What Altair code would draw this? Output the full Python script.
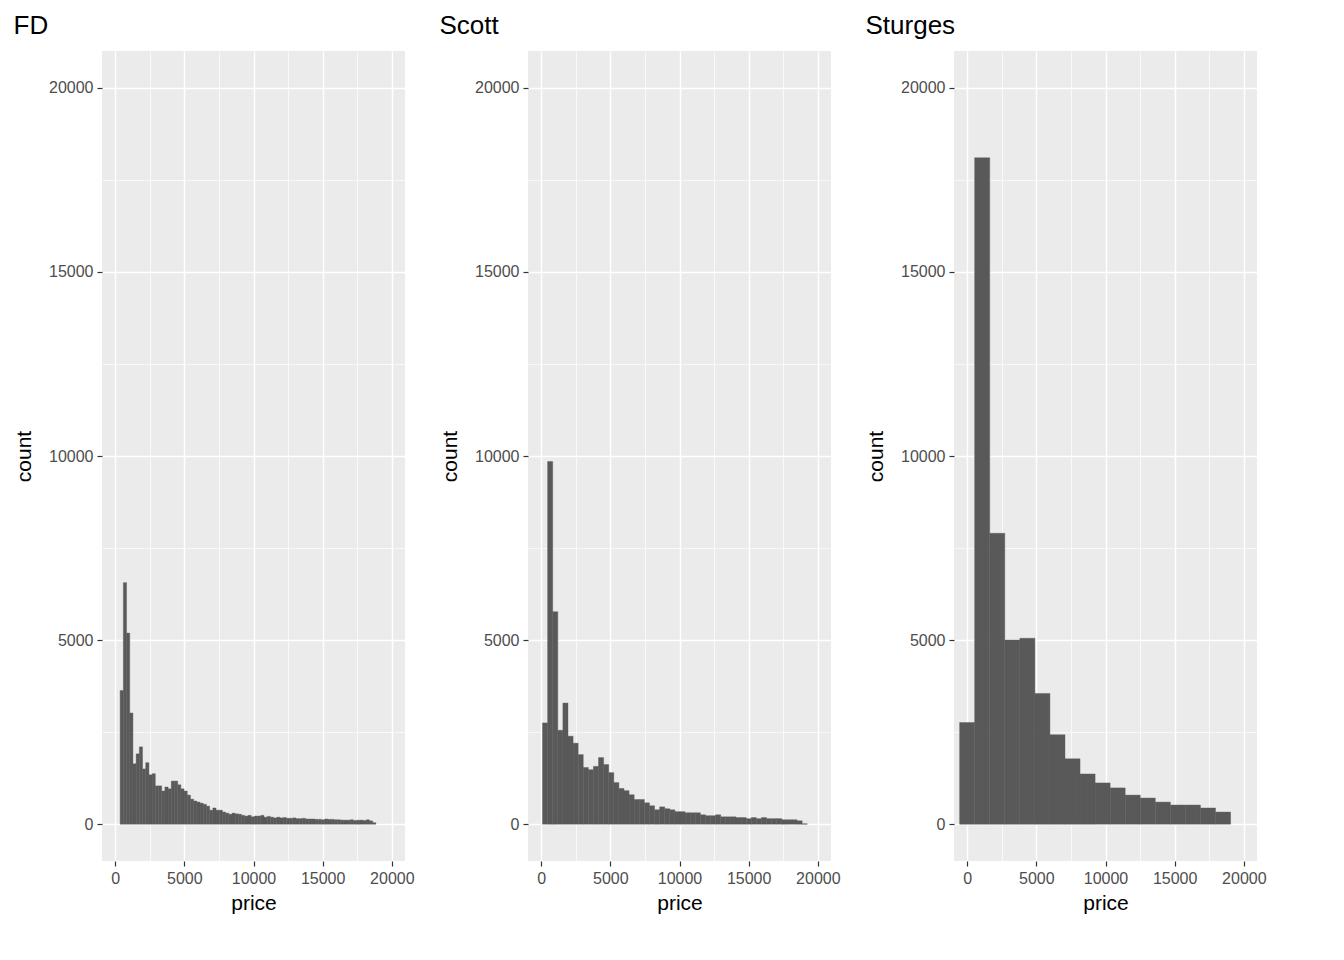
import altair as alt
import pandas as pd

fd_start, fd_width = 362, 231
fd_counts = [3630, 6560, 5190, 3020, 1640, 1910, 2100, 1500, 1670, 1340, 1370, 1040,
             1040, 900, 1010, 960, 1170, 1170, 1070, 960, 900, 790, 680, 630, 600, 570,
             540, 490, 380, 440, 380, 380, 330, 300, 270, 300, 280, 270, 240, 220, 240,
             200, 220, 220, 240, 190, 210, 190, 170, 190, 170, 180, 160, 160, 170, 150,
             150, 160, 140, 140, 140, 130, 130, 120, 140, 130, 130, 120, 120, 110, 110,
             110, 120, 100, 110, 110, 100, 120, 90, 40]

scott_start, scott_width = 100, 368
scott_counts = [2750, 9850, 5770, 2550, 3290, 2390, 2200, 1890, 1540, 1480, 1570, 1810,
                1620, 1400, 1130, 970, 910, 800, 670, 670, 580, 500, 390, 470, 420, 390,
                340, 340, 310, 310, 310, 255, 230, 230, 255, 200, 200, 200, 180, 180, 150,
                180, 150, 180, 150, 150, 150, 120, 120, 120, 90, 10]

sturges_start, sturges_width = -544, 1088
sturges_counts = [2760, 18100, 7900, 5000, 5050, 3550, 2430, 1775, 1365, 1120, 985,
                  790, 710, 600, 520, 520, 440, 330]

grid_cond = {"condition": {"test": "datum.value % 5000 == 0", "value": 1.4}, "value": 0.7}
tick_cond = {"condition": {"test": "datum.value % 5000 == 0", "value": 1}, "value": 0}


def axis(title, pad):
    return alt.Axis(
        title=title, values=list(range(0, 22500, 2500)), grid=True, gridColor="white",
        gridOpacity=1, gridWidth=grid_cond, tickOpacity=tick_cond, tickColor="#333333",
        tickSize=5, tickWidth=1.2,
        labelExpr="datum.value % 5000 == 0 ? datum.value : ''", labelColor="#4D4D4D",
        labelFontSize=16, titleFontSize=21, titleColor="black", titleFontWeight="normal",
        domain=False, labelPadding=4, titlePadding=pad, labelFlush=False,
    )


def panel(name, start, width, counts):
    df = pd.DataFrame({"count": counts})
    df["x0"] = [start + width * i for i in range(len(counts))]
    df["x1"] = df["x0"] + width
    df["zero"] = 0
    return alt.Chart(df).mark_rect(color="#595959", stroke="#595959", strokeWidth=0.4).encode(
        x=alt.X("x0:Q", scale=alt.Scale(domain=[-950, 20950], nice=False), axis=axis("price", 6)),
        x2="x1:Q",
        y=alt.Y("count:Q", scale=alt.Scale(domain=[-1000, 21000], nice=False), axis=axis("count", 14)),
        y2="zero:Q",
    ).properties(
        width=303, height=810,
        view=alt.ViewBackground(fill="#EBEBEB", stroke=None),
        title=alt.TitleParams(name, anchor="start", fontSize=26, fontWeight="normal", offset=12),
    )


chart = alt.hconcat(
    panel("FD", fd_start, fd_width, fd_counts),
    panel("Scott", scott_start, scott_width, scott_counts),
    panel("Sturges", sturges_start, sturges_width, sturges_counts),
    spacing=24,
).configure(font="Liberation Sans").configure_view(fill="#EBEBEB", strokeWidth=0)

chart.save("out.html", embed_options={"renderer": "svg", "actions": False})
